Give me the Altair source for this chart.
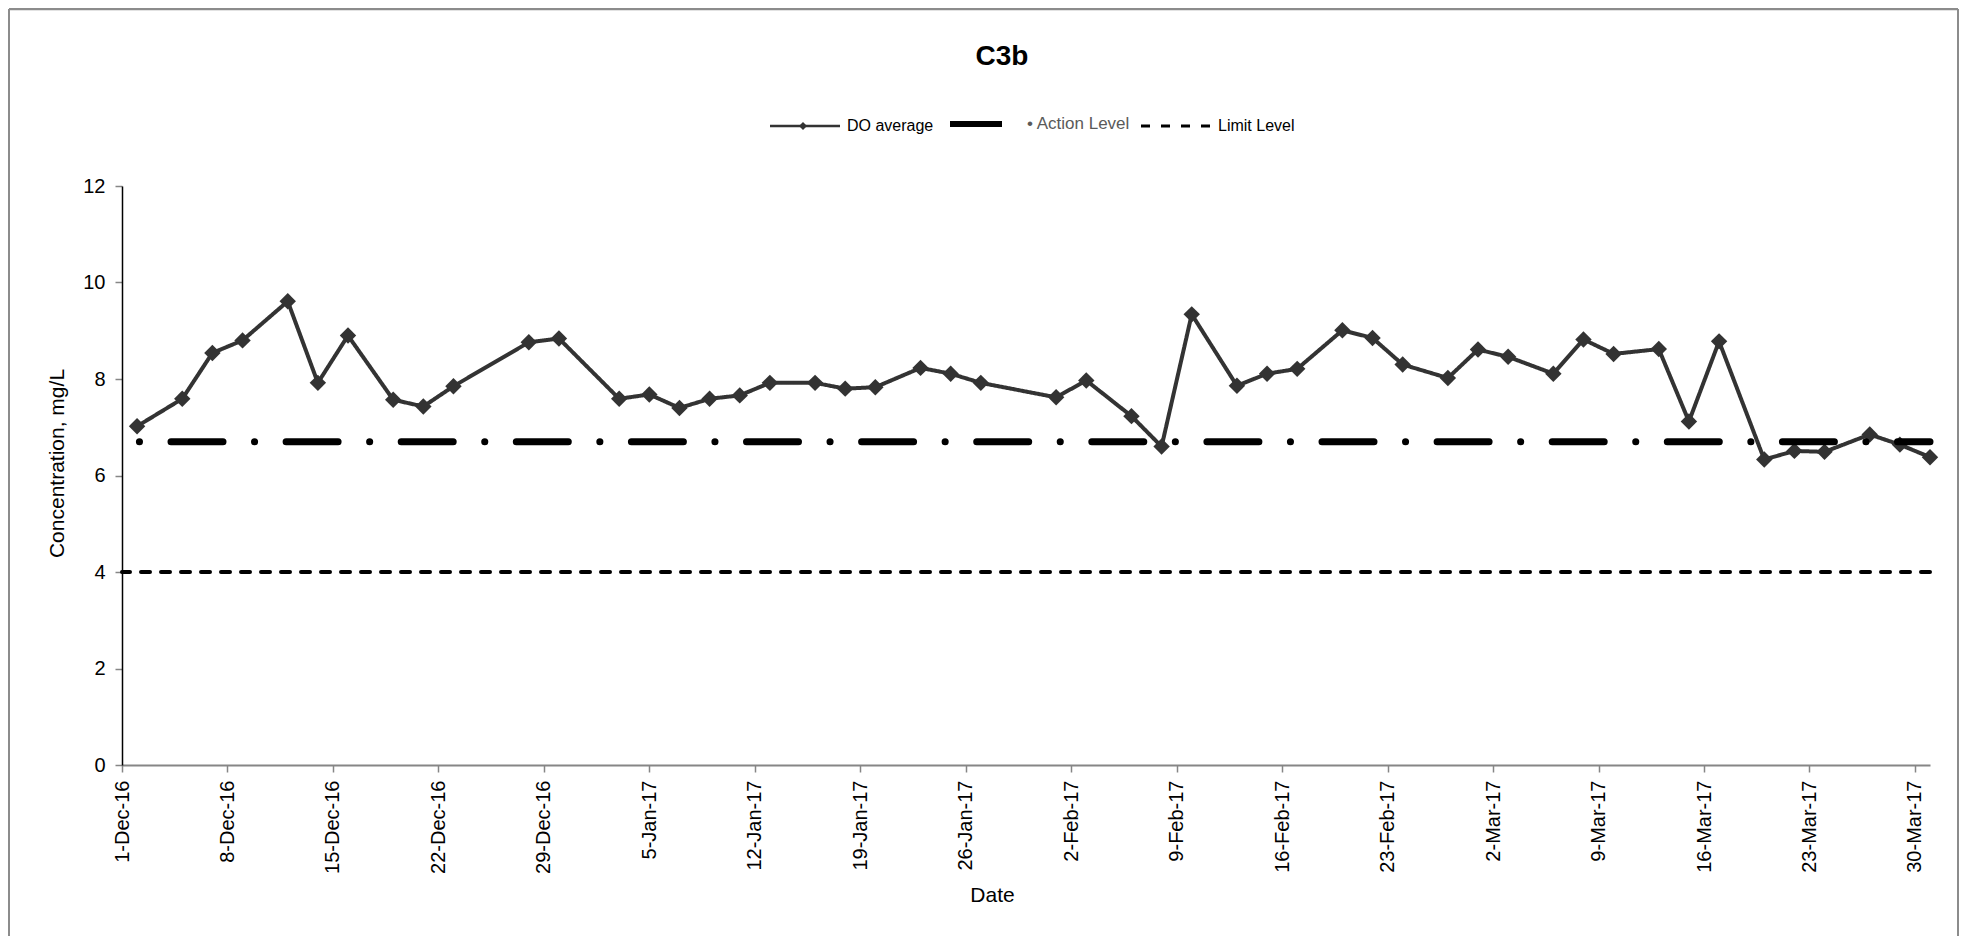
import altair as alt
import pandas as pd

FONT = "Liberation Sans"

# ---- data ----
sample_dates = [
    "2016-12-02", "2016-12-05", "2016-12-07", "2016-12-09", "2016-12-12", "2016-12-14",
    "2016-12-16", "2016-12-19", "2016-12-21", "2016-12-23", "2016-12-28", "2016-12-30",
    "2017-01-03", "2017-01-05", "2017-01-07", "2017-01-09", "2017-01-11", "2017-01-13",
    "2017-01-16", "2017-01-18", "2017-01-20", "2017-01-23", "2017-01-25", "2017-01-27",
    "2017-02-01", "2017-02-03", "2017-02-06", "2017-02-08", "2017-02-10", "2017-02-13",
    "2017-02-15", "2017-02-17", "2017-02-20", "2017-02-22", "2017-02-24", "2017-02-27",
    "2017-03-01", "2017-03-03", "2017-03-06", "2017-03-08", "2017-03-10", "2017-03-13",
    "2017-03-15", "2017-03-17", "2017-03-20", "2017-03-22", "2017-03-24", "2017-03-27",
    "2017-03-29", "2017-03-31",
]
do_values = [
    7.02, 7.59, 8.54, 8.80, 9.61, 7.92, 8.90, 7.57, 7.43, 7.85, 8.76, 8.84,
    7.59, 7.68, 7.40, 7.59, 7.66, 7.92, 7.92, 7.80, 7.83, 8.23, 8.11, 7.92,
    7.62, 7.97, 7.23, 6.60, 9.34, 7.86, 8.11, 8.21, 9.01, 8.85, 8.30, 8.02,
    8.61, 8.46, 8.11, 8.82, 8.52, 8.62, 7.12, 8.78, 6.33, 6.51, 6.49, 6.85,
    6.64, 6.38,
]
series_names = ["DO average", "Action Level", "Limit Level"]
level_names = ["Action Level", "Limit Level"]
level_values = [6.7, 4.0]
x_tick_dates = [
    "2016-12-01", "2016-12-08", "2016-12-15", "2016-12-22", "2016-12-29",
    "2017-01-05", "2017-01-12", "2017-01-19", "2017-01-26",
    "2017-02-02", "2017-02-09", "2017-02-16", "2017-02-23",
    "2017-03-02", "2017-03-09", "2017-03-16", "2017-03-23", "2017-03-30",
]
x_domain = ["2016-12-01", "2017-03-31"]
y_ticks = [0, 2, 4, 6, 8, 10, 12]


def dt(s):
    y, m, d = (int(p) for p in s.split("-"))
    return alt.DateTime(year=y, month=m, date=d)


do_df = pd.DataFrame({
    "date": pd.to_datetime(sample_dates),
    "value": do_values,
    "series": ["DO average"] * len(do_values),
    "marker": ["DO"] * len(do_values),
})
lvl_df = pd.DataFrame({"value": level_values, "series": level_names})
frame_df = pd.DataFrame({"k": [0]})

x_enc = alt.X(
    "date:T",
    scale=alt.Scale(domain=[dt(s) for s in x_domain], nice=False),
    axis=alt.Axis(
        values=[dt(s) for s in x_tick_dates], format="%-d-%b-%y", labelAngle=-90,
        labelFontSize=20, labelPadding=8, tickSize=7, labelFlush=False, labelOverlap=False,
        domainColor="#868686", domainWidth=2, tickColor="#868686", tickWidth=1.5,
        grid=False, title="Date", titleFontSize=21, titleFontWeight="normal",
        titleX=870, titleY=130, titleAlign="center", titleBaseline="middle",
    ),
)
y_enc = alt.Y(
    "value:Q",
    scale=alt.Scale(domain=[0, 12], nice=False),
    axis=alt.Axis(
        values=y_ticks, labelFontSize=20, labelPadding=10, tickSize=7,
        domainColor="black", domainWidth=1.5, tickColor="#868686", tickWidth=1.5,
        grid=False, title="Concentration, mg/L", titleFontSize=21, titleFontWeight="normal",
        titleAngle=-90, titleX=-65, titleY=277, titleAlign="center", titleBaseline="middle",
    ),
)

series_legend = alt.Legend(
    title=None, orient="none", legendX=675, legendY=-70, direction="horizontal",
    symbolType="stroke", symbolSize=4900, labelFont=FONT,
    labelFontSize={"expr": "datum.label == 'Action Level' ? 17 : 16"},
    labelColor={"expr": "datum.label == 'Action Level' ? '#5a5a5a' : 'black'"},
    labelOffset=34, columnPadding=4,
    symbolStrokeWidth={"expr": "datum.value == 'Action Level' ? 6 : (datum.value == 'Limit Level' ? 3 : 2.5)"},
    labelExpr="datum.label == 'Action Level' ? '\u2022 Action Level' : datum.label",
)
color_enc = alt.Color(
    "series:N",
    scale=alt.Scale(domain=series_names, range=["#333333", "#000000", "#000000"]),
    legend=series_legend,
)
dash_enc = alt.StrokeDash(
    "series:N",
    scale=alt.Scale(domain=series_names, range=[[1, 0], [52, 31.5, 0.1, 31.5], [9, 11]]),
    legend=series_legend,
)

marker_legend = alt.Legend(
    title=None, orient="none", legendX=676, legendY=-65, symbolSize=64,
    symbolFillColor="#333333", symbolStrokeColor="#333333", labelExpr="''",
)

line = alt.Chart(do_df).mark_line(strokeWidth=4).encode(
    x=x_enc, y=y_enc, color=color_enc, strokeDash=dash_enc
)
points = alt.Chart(do_df).mark_point(filled=True, size=270, color="#333333", opacity=1).encode(
    x=x_enc, y=y_enc,
    shape=alt.Shape("marker:N", scale=alt.Scale(domain=["DO"], range=["diamond"]), legend=marker_legend),
)
action = alt.Chart(lvl_df).transform_filter(alt.datum.series == "Action Level").mark_rule(
    strokeWidth=7, strokeCap="round", strokeDashOffset=19.5
).encode(y=y_enc, color=color_enc, strokeDash=dash_enc)
limit = alt.Chart(lvl_df).transform_filter(alt.datum.series == "Limit Level").mark_rule(
    strokeWidth=4, strokeCap="round"
).encode(y=y_enc, color=color_enc, strokeDash=dash_enc)

frame_color = "#8c8c8c"
frame_left = alt.Chart(frame_df).mark_rule(color=frame_color, strokeWidth=2).encode(
    x=alt.value(-113), y=alt.value(-177), y2=alt.value(760)
)
frame_top = alt.Chart(frame_df).mark_rule(color=frame_color, strokeWidth=2.5).encode(
    x=alt.value(-113), x2=alt.value(1836), y=alt.value(-177)
)
frame_right = alt.Chart(frame_df).mark_rule(color=frame_color, strokeWidth=2).encode(
    x=alt.value(1836), y=alt.value(-177), y2=alt.value(760)
)

chart = alt.layer(frame_left, frame_top, frame_right, line, points, action, limit).properties(
    width=1808, height=579,
    padding={"left": 114, "top": 178, "right": 30, "bottom": 171},
    autosize=alt.AutoSizeParams(type="none"),
    title=alt.TitleParams(
        text="C3b", font=FONT, fontSize=28, fontWeight="bold", color="black",
        anchor="middle", frame="group", dx=-24, offset=-85, baseline="alphabetic",
    ),
).configure_view(stroke=None).configure_axis(
    labelFont=FONT, titleFont=FONT, labelColor="black", titleColor="black"
)

chart.save("out.html", embed_options={"renderer": "svg", "actions": False})
